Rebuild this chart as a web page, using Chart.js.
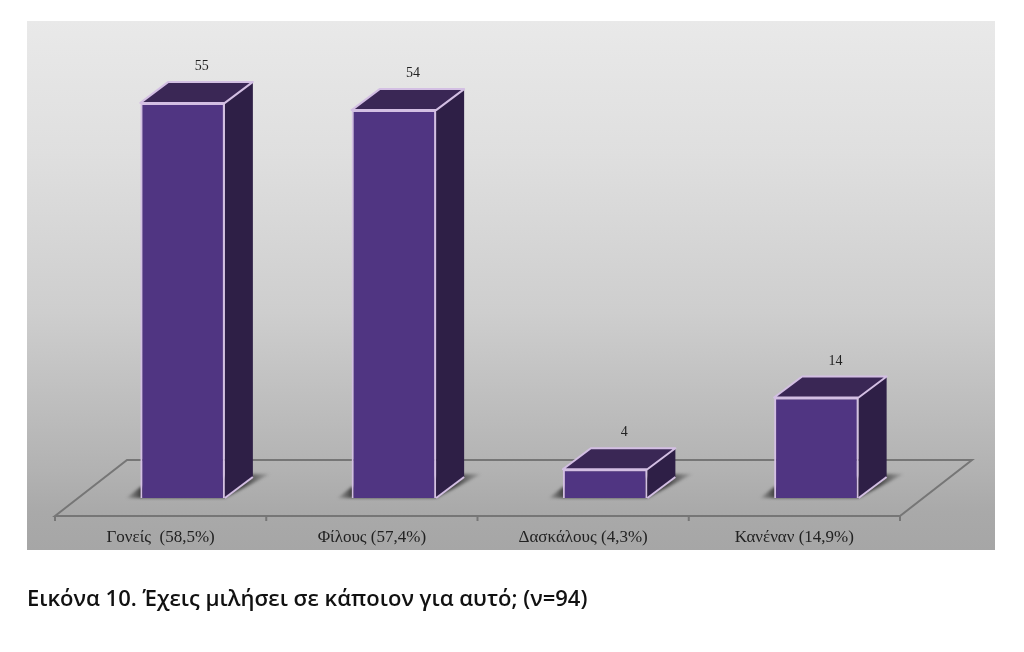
<!DOCTYPE html>
<html>
<head>
<meta charset="utf-8">
<script src="https://cdn.jsdelivr.net/npm/chart.js@4"></script>
<style>
  html, body { margin: 0; padding: 0; background: #fff; overflow: hidden; }
  #panel {
    position: absolute; left: 27px; top: 21px; width: 968px; height: 529px;
    background: linear-gradient(to bottom, #e9e9e9 0%, #dfdfdf 25%, #cecece 55%, #b2b2b2 85%, #a9a9a9 93%, #a6a6a6 100%);
  }
  #chart { position: absolute; left: 0; top: 0; }
  #caption {
    position: absolute; left: 27px; top: 582px; white-space: nowrap;
    font: 600 22px "Open Sans", sans-serif; color: #111;
  }
</style>
</head>
<body>
<div id="panel"></div>
<canvas id="chart" width="1024" height="652"></canvas>
<div id="caption">Εικόνα 10. Έχεις μιλήσει σε κάποιον για αυτό; (ν=94)</div>
<script>
const categories = ["Γονείς  (58,5%)", "Φίλους (57,4%)", "Δασκάλους (4,3%)", "Κανέναν (14,9%)"];
const answers = [55, 54, 4, 14];

// fake 3d depth of the bars, and how far the floor sits from them
const depthX = 28, depthY = 21;
const floorShift = 22, floorFront = 18, floorDepthX = 72, floorDepthY = 56;

const cube3d = {
  id: "cube3d",
  beforeDatasetsDraw(chart) {
    const ctx = chart.ctx, x = chart.scales.x;
    const base = chart.chartArea.bottom;
    const y0 = base + floorFront;
    const step = x.width / categories.length;
    const left = x.left - floorShift, right = x.right - floorShift;

    // floor outline
    ctx.save();
    ctx.strokeStyle = "#767676";
    ctx.lineWidth = 2;
    ctx.beginPath();
    ctx.moveTo(left, y0);
    ctx.lineTo(left + floorDepthX, y0 - floorDepthY);
    ctx.lineTo(right + floorDepthX, y0 - floorDepthY);
    ctx.lineTo(right, y0);
    ctx.closePath();
    ctx.stroke();
    for (let i = 0; i <= categories.length; i++) {
      ctx.beginPath();
      ctx.moveTo(left + i * step, y0);
      ctx.lineTo(left + i * step, y0 + 5);
      ctx.stroke();
    }
    ctx.restore();

    chart.getDatasetMeta(0).data.forEach((bar) => {
      const l = bar.x - bar.width / 2, r = bar.x + bar.width / 2;
      const top = bar.y;

      // floor shadow, fading out at both tips
      const shade = ctx.createLinearGradient(l - 14, 0, r + 45, 0);
      shade.addColorStop(0, "rgba(55,55,55,0.1)");
      shade.addColorStop(0.1, "rgba(55,55,55,0.9)");
      shade.addColorStop(0.82, "rgba(55,55,55,0.9)");
      shade.addColorStop(1, "rgba(55,55,55,0.1)");
      ctx.save();
      ctx.filter = "blur(1.5px)";
      ctx.fillStyle = shade;
      ctx.beginPath();
      ctx.moveTo(l - 14, base);
      ctx.lineTo(r, base);
      ctx.lineTo(r + 45, base - 24);
      ctx.lineTo(r + depthX, base - 24);
      ctx.lineTo(l, base - 11);
      ctx.closePath();
      ctx.fill();
      ctx.restore();

      // side and top faces
      ctx.save();
      ctx.lineWidth = 2;
      ctx.lineJoin = "round";
      ctx.strokeStyle = "#d3bfe3";
      ctx.fillStyle = "#2e1f46";
      ctx.beginPath();
      ctx.moveTo(r, top);
      ctx.lineTo(r + depthX, top - depthY);
      ctx.lineTo(r + depthX, base - depthY);
      ctx.lineTo(r, base);
      ctx.closePath();
      ctx.fill();
      ctx.fillStyle = "#3a2755";
      ctx.beginPath();
      ctx.moveTo(l, top);
      ctx.lineTo(l + depthX, top - depthY);
      ctx.lineTo(r + depthX, top - depthY);
      ctx.lineTo(r, top);
      ctx.closePath();
      ctx.fill();
      ctx.stroke();
      // bottom edge of the side face
      ctx.beginPath();
      ctx.moveTo(r, base);
      ctx.lineTo(r + depthX, base - depthY);
      ctx.stroke();
      ctx.restore();
    });
  },
  afterDatasetsDraw(chart) {
    const ctx = chart.ctx;
    ctx.save();
    ctx.font = '14px "Liberation Serif"';
    ctx.fillStyle = "#222";
    ctx.textAlign = "center";
    ctx.textBaseline = "middle";
    chart.getDatasetMeta(0).data.forEach((bar, i) => {
      ctx.fillText(answers[i], bar.x + 19, bar.y - depthY - 15.5);
    });
    ctx.restore();
  }
};

new Chart(document.getElementById("chart"), {
  type: "bar",
  data: {
    labels: categories,
    datasets: [{
      data: answers,
      backgroundColor: "#503582",
      borderColor: "#d3bfe3",
      borderWidth: 2,
      barPercentage: 0.4,
      categoryPercentage: 1
    }]
  },
  options: {
    responsive: false,
    animation: false,
    layout: { padding: { left: 77, right: 102, top: 67, bottom: 104 } },
    plugins: { legend: { display: false }, tooltip: { enabled: false } },
    scales: {
      x: {
        grid: { display: false },
        border: { display: false },
        afterFit(scale) { scale.height = 50; },
        ticks: {
          padding: 21,
          labelOffset: -22,
          maxRotation: 0,
          color: "#222",
          font: { family: "Liberation Serif", size: 17 }
        }
      },
      y: { display: false, min: 0, max: 60 }
    }
  },
  plugins: [cube3d]
});
</script>
</body>
</html>
